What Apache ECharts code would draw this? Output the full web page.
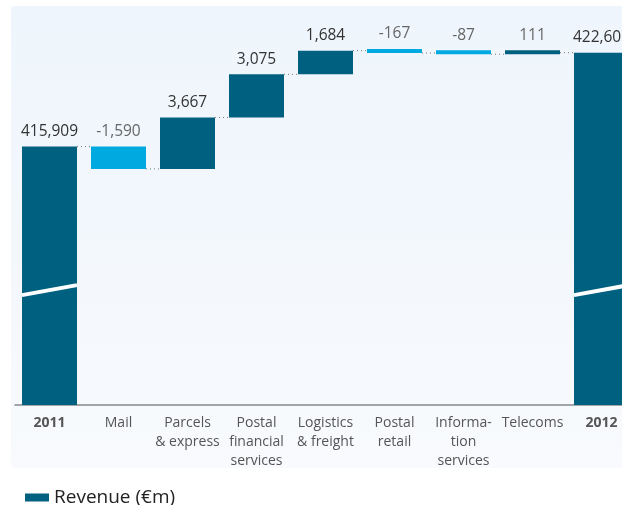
<!DOCTYPE html>
<html>
<head>
<meta charset="utf-8">
<script src="https://cdn.jsdelivr.net/npm/echarts@6/dist/echarts.min.js"></script>
<style>
  html, body { margin: 0; padding: 0; background: #fff; }
  #chart { width: 622px; height: 505px; }
</style>
</head>
<body>
<div id="chart"></div>
<script>
// categories (line breaks as printed under the axis)
const categories = ["2011", "Mail", "Parcels\n& express", "Postal\nfinancial\nservices",
  "Logistics\n& freight", "Postal\nretail", "Informa-\ntion\nservices", "Telecoms", "2012"];
const startTotal = 415909;
const changes = [-1590, 3667, 3075, 1684, -167, -87, 111];
const endTotal = 422602;
const isTotal = [true, false, false, false, false, false, false, false, true];

// axis break drawn on the total bars (values at left / right bar edge)
const breakFrom = 405330;
const breakTo = 406040;

const DARK = "#00607f";
const LIGHT = "#00a9e0";
const BAR_W = 55;

// running levels: level[i] is the total after column i
const level = [startTotal];
changes.forEach(c => level.push(level[level.length - 1] + c));
level.push(endTotal);

const fmt = v => (v < 0 ? "-" : "") + Math.abs(v).toLocaleString("en-US");

const baseData = [], upData = [], downData = [];
categories.forEach((c, i) => {
  if (isTotal[i]) {
    const v = i === 0 ? startTotal : endTotal;
    baseData.push("-");
    upData.push({ value: v, label: { formatter: fmt(v), color: "#333" } });
    downData.push("-");
  } else {
    const ch = changes[i - 1];
    const before = level[i - 1], after = level[i];
    baseData.push(Math.min(before, after));
    const col = ch < 1000 ? "#666" : "#333";
    if (ch >= 0) {
      upData.push({ value: ch, label: { formatter: fmt(ch), color: col } });
      downData.push("-");
    } else {
      upData.push("-");
      downData.push({ value: -ch, label: { formatter: fmt(ch), color: col } });
    }
  }
});

const chart = echarts.init(document.getElementById("chart"));
const labelStyle = { show: true, position: "top", distance: 7, fontSize: 15.5, fontFamily: "Open Sans" };

chart.setOption({
  animation: false,
  textStyle: { fontFamily: "Open Sans" },
  graphic: [{
    type: "rect", z: -10, silent: true,
    shape: { x: 11, y: 6, width: 640, height: 462, r: 4 },
    style: {
      fill: new echarts.graphic.LinearGradient(0, 0, 0, 1, [
        { offset: 0, color: "#eef5fc" }, { offset: 1, color: "#f8fafd" }
      ])
    }
  }],
  legend: {
    data: ["Revenue (€m)"],
    left: 20, top: 483,
    icon: "rect", itemWidth: 24, itemHeight: 8, itemGap: 6,
    textStyle: { fontSize: 19, color: "#222", fontFamily: "Open Sans" }
  },
  grid: { left: 15, right: -14, top: 12, bottom: 100, outerBoundsMode: "none", containLabel: false },
  xAxis: {
    type: "category",
    data: categories,
    axisTick: { show: false },
    axisLine: { lineStyle: { color: "#888", width: 1.5 } },
    axisLabel: {
      interval: 0, margin: 9, color: "#555", fontSize: 14, lineHeight: 19,
      formatter: (v, i) => isTotal[i] ? "{b|" + v + "}" : v,
      rich: { b: { fontWeight: "bold", color: "#555", fontSize: 14, lineHeight: 19 } }
    }
  },
  yAxis: {
    type: "value", show: false, min: 397500, max: 425500,
    splitLine: { show: false }
  },
  series: [
    {
      name: "base", type: "bar", stack: "w", barWidth: BAR_W,
      itemStyle: { color: "transparent" }, data: baseData, silent: true
    },
    {
      name: "Revenue (€m)", type: "bar", stack: "w", barWidth: BAR_W, barMinHeight: 4,
      itemStyle: { color: DARK }, label: labelStyle, data: upData
    },
    {
      name: "decrease", type: "bar", stack: "w", barWidth: BAR_W, barMinHeight: 4,
      itemStyle: { color: LIGHT }, label: labelStyle, data: downData
    },
    {
      // dotted connectors between columns
      name: "connectors", type: "custom", z: 5, silent: true,
      data: level.slice(0, categories.length - 1).map((v, i) => [i, v]),
      renderItem: (params, api) => {
        const i = api.value(0), v = api.value(1);
        const a = api.coord([i, v]), b = api.coord([i + 1, v]);
        return {
          type: "line",
          shape: { x1: a[0] + BAR_W / 2, y1: a[1], x2: b[0] - BAR_W / 2, y2: b[1] },
          style: { stroke: "#777", lineWidth: 1, lineDash: [1, 3] }
        };
      }
    },
    {
      // white break line over the total columns
      name: "break", type: "custom", z: 6, silent: true,
      data: categories.map((c, i) => [i, breakFrom]).filter(d => isTotal[d[0]]),
      renderItem: (params, api) => {
        const i = api.value(0);
        const a = api.coord([i, breakFrom]), b = api.coord([i, breakTo]);
        return {
          type: "line",
          shape: { x1: a[0] - BAR_W / 2, y1: a[1], x2: b[0] + BAR_W / 2, y2: b[1] },
          style: { stroke: "#fff", lineWidth: 4 }
        };
      }
    }
  ]
});
</script>
</body>
</html>
